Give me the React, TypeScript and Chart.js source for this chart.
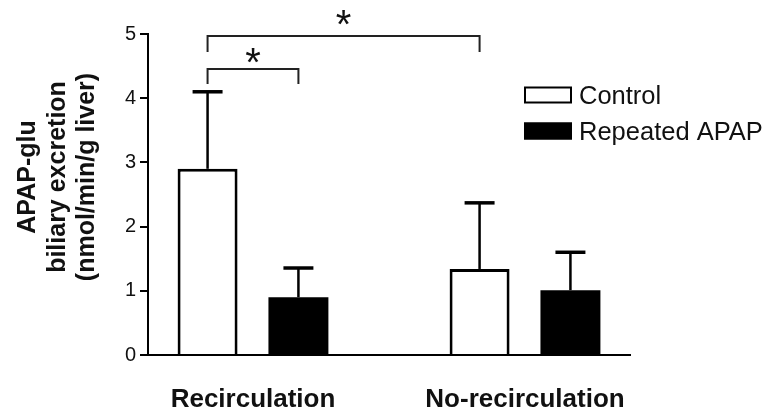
import { useEffect, useRef } from 'react';
import { Chart, registerables } from 'chart.js';

Chart.register(...registerables);

const categories = ['Recirculation', 'No-recirculation'];
const seriesNames = ['Control', 'Repeated APAP'];
const controlMeans = [2.9, 1.34];
const controlErrors = [1.2, 1.03];
const repeatedMeans = [0.9, 1.01];
const repeatedErrors = [0.455, 0.59];
const yTicks = [0, 1, 2, 3, 4, 5];
const yTitleLines = ['APAP-glu', 'biliary excretion', '(nmol/min/g liver)'];
// significance brackets: [datasetIndex, dataIndex] pairs, bracket level, drop end, star level
const sigFrom = [[0, 0], [0, 0]];
const sigTo = [[1, 0], [0, 1]];
const sigLevel = [4.455, 4.97];
const sigDrop = [4.22, 4.72];
const sigStarLevel = [4.67, 5.25];
const sigLabel = ['*', '*'];

const FONT = "'Liberation Sans', Arial, Helvetica, sans-serif";
const INK = '#111';

const errorsByDataset = [controlErrors, repeatedErrors];
const meansByDataset = [controlMeans, repeatedMeans];

const annotationPlugin = {
  id: 'annotations',
  afterDatasetsDraw(chart: any) {
    const ctx = chart.ctx;
    const yScale = chart.scales.y;
    ctx.save();
    // error bars (upper only)
    chart.data.datasets.forEach((_ds: any, di: number) => {
      const meta = chart.getDatasetMeta(di);
      meta.data.forEach((bar: any, i: number) => {
        const top = yScale.getPixelForValue(meansByDataset[di][i] + errorsByDataset[di][i]);
        const half = bar.width / 4;
        ctx.strokeStyle = '#000';
        ctx.lineWidth = 2.5;
        ctx.beginPath();
        ctx.moveTo(bar.x, bar.y);
        ctx.lineTo(bar.x, top);
        ctx.stroke();
        ctx.lineWidth = 3.5;
        ctx.beginPath();
        ctx.moveTo(bar.x - half, top);
        ctx.lineTo(bar.x + half, top);
        ctx.stroke();
      });
    });
    ctx.restore();
  },
  afterDraw(chart: any) {
    const ctx = chart.ctx;
    const yScale = chart.scales.y;
    ctx.save();
    // significance brackets
    for (let k = 0; k < sigLevel.length; k++) {
      const a = chart.getDatasetMeta(sigFrom[k][0]).data[sigFrom[k][1]];
      const b = chart.getDatasetMeta(sigTo[k][0]).data[sigTo[k][1]];
      const yl = yScale.getPixelForValue(sigLevel[k]);
      const yd = yScale.getPixelForValue(sigDrop[k]);
      ctx.strokeStyle = '#222';
      ctx.lineWidth = 2;
      ctx.beginPath();
      ctx.moveTo(a.x, yd);
      ctx.lineTo(a.x, yl);
      ctx.lineTo(b.x, yl);
      ctx.lineTo(b.x, yd);
      ctx.stroke();
      ctx.fillStyle = INK;
      ctx.font = `40px ${FONT}`;
      ctx.textAlign = 'center';
      ctx.textBaseline = 'alphabetic';
      const m = ctx.measureText(sigLabel[k]);
      const cy = yScale.getPixelForValue(sigStarLevel[k]);
      const base = cy + (m.actualBoundingBoxAscent - m.actualBoundingBoxDescent) / 2;
      ctx.fillText(sigLabel[k], (a.x + b.x) / 2, base);
    }
    // y axis title
    ctx.fillStyle = INK;
    ctx.font = `bold 25px ${FONT}`;
    ctx.textAlign = 'center';
    ctx.textBaseline = 'alphabetic';
    const titleBaselines = [35, 64.5, 94];
    const centerY = 177;
    yTitleLines.forEach((line, i) => {
      ctx.save();
      ctx.translate(titleBaselines[i], centerY);
      ctx.rotate(-Math.PI / 2);
      ctx.fillText(line, 0, 0);
      ctx.restore();
    });
    // legend
    const rowCenters = [95, 131];
    const boxLeft = 524;
    const boxW = 48;
    const boxH = 17;
    ctx.font = `25.5px ${FONT}`;
    ctx.textAlign = 'left';
    seriesNames.forEach((name, i) => {
      const ds = chart.data.datasets[i];
      const cy = rowCenters[i];
      ctx.fillStyle = ds.backgroundColor;
      ctx.fillRect(boxLeft, cy - boxH / 2, boxW, boxH);
      ctx.strokeStyle = '#000';
      ctx.lineWidth = 2;
      ctx.strokeRect(boxLeft + 1, cy - boxH / 2 + 1, boxW - 2, boxH - 2);
      ctx.fillStyle = INK;
      ctx.fillText(name, 579, cy + 8.5);
    });
    ctx.restore();
  },
};

export default function App() {
  const ref = useRef<HTMLCanvasElement>(null);
  useEffect(() => {
    if (!ref.current) return;
    Chart.defaults.font.family = FONT;
    const chart = new Chart(ref.current, {
      type: 'bar',
      data: {
        datasets: [
          {
            label: seriesNames[0],
            data: categories.map((_, i) => ({ x: i, y: controlMeans[i] })),
            backgroundColor: '#ffffff',
            borderColor: '#000000',
            borderWidth: 3,
            categoryPercentage: 0.668,
            barPercentage: 0.66,
          },
          {
            label: seriesNames[1],
            data: categories.map((_, i) => ({ x: i, y: repeatedMeans[i] })),
            backgroundColor: '#000000',
            borderColor: '#000000',
            borderWidth: 0,
            categoryPercentage: 0.668,
            barPercentage: 0.66,
          },
        ] as any,
      },
      options: {
        responsive: false,
        animation: false,
        layout: { padding: { left: 0, right: 142, top: 34, bottom: 0 } },
        plugins: { legend: { display: false }, tooltip: { enabled: false } },
        scales: {
          x: {
            type: 'linear',
            offset: false,
            min: -0.386,
            max: 1.386,
            afterBuildTicks: (s: any) => {
              s.ticks = categories.map((_, i) => ({ value: i }));
            },
            afterFit: (s: any) => {
              s.height = 63;
            },
            ticks: {
              callback: (v: any) => categories[v] ?? '',
              font: { size: 26, weight: 'bold' },
              color: INK,
              padding: 29,
              maxRotation: 0,
              autoSkip: false,
            },
            grid: { display: false, drawTicks: false },
            border: { display: true, color: '#000', width: 2 },
          },
          y: {
            min: 0,
            max: 5,
            afterBuildTicks: (s: any) => {
              s.ticks = yTicks.map((v) => ({ value: v }));
            },
            afterFit: (s: any) => {
              s.width = 148;
            },
            ticks: { font: { size: 20 }, color: INK, padding: 4 },
            grid: { drawOnChartArea: false, drawTicks: true, tickLength: 8, color: '#000', lineWidth: 2 },
            border: { display: true, color: '#000', width: 2 },
          },
        },
      } as any,
      plugins: [annotationPlugin],
    });
    return () => chart.destroy();
  }, []);
  return (
    <div style={{ position: 'absolute', left: 0, top: 0, width: 772, height: 418, background: '#fff' }}>
      <canvas ref={ref} width={772} height={418} />
    </div>
  );
}
